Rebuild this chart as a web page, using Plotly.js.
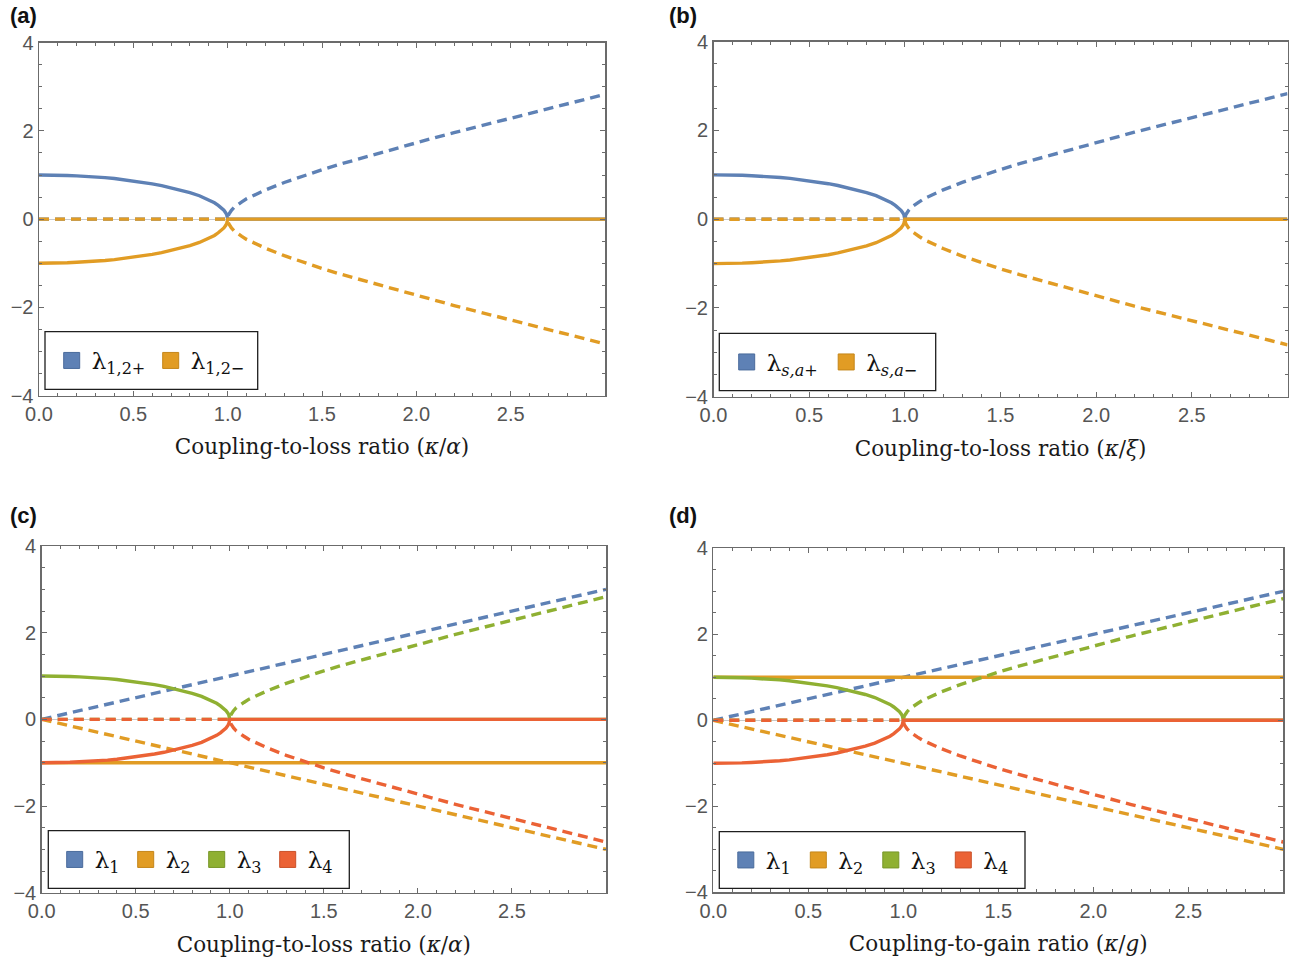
<!DOCTYPE html>
<html>
<head>
<meta charset="utf-8">
<script src="https://cdn.plot.ly/plotly-3.0.1.min.js"></script>
<style>html,body{margin:0;padding:0;background:#fff;}#chart{width:1293px;height:966px;}</style>
</head>
<body>
<div id="chart"></div>
<script>
// ---------- data ----------
const kIn = [0,0.05,0.1,0.15,0.2,0.25,0.3,0.35,0.4,0.45,0.5,0.55,0.6,0.65,0.7,0.75,0.8,0.85,0.9,0.93,0.95,0.97,0.98,0.99,0.995,1];
const upperIn = [1.00,1.00,0.99,0.99,0.98,0.97,0.95,0.94,0.92,0.89,0.87,0.84,0.80,0.76,0.71,0.66,0.60,0.53,0.44,0.37,0.31,0.24,0.20,0.14,0.10,0.00];
const lowerIn = [-1.00,-1.00,-0.99,-0.99,-0.98,-0.97,-0.95,-0.94,-0.92,-0.89,-0.87,-0.84,-0.80,-0.76,-0.71,-0.66,-0.60,-0.53,-0.44,-0.37,-0.31,-0.24,-0.20,-0.14,-0.10,0.00];
const kOut = [1,1.005,1.01,1.02,1.035,1.05,1.075,1.1,1.15,1.2,1.3,1.4,1.5,1.6,1.7,1.8,1.9,2.0,2.1,2.2,2.3,2.4,2.5,2.6,2.7,2.8,2.9,3.0];
const upperOut = [0,0.10,0.14,0.20,0.27,0.32,0.39,0.46,0.57,0.66,0.83,0.98,1.12,1.25,1.37,1.50,1.62,1.73,1.85,1.96,2.07,2.18,2.29,2.40,2.51,2.62,2.72,2.83];
const lowerOut = [0,-0.10,-0.14,-0.20,-0.27,-0.32,-0.39,-0.46,-0.57,-0.66,-0.83,-0.98,-1.12,-1.25,-1.37,-1.50,-1.62,-1.73,-1.85,-1.96,-2.07,-2.18,-2.29,-2.40,-2.51,-2.62,-2.72,-2.83];
const kBefore = [0, 1];      // zero segment before the exceptional point
const kAfter = [1, 3];       // zero segment after the exceptional point
const zeroPair = [0, 0];
const kSpan = [0, 3];
const levelOne = [1, 1];
const levelMinusOne = [-1, -1];
const diagUp = [0, 3];
const diagDown = [0, -3];

const xTickVals = [0, 0.5, 1.0, 1.5, 2.0, 2.5];
const legendA = ['λ<sub>1,2+</sub>', 'λ<sub>1,2−</sub>'];
const legendB = ['λ<sub><i>s,a</i>+</sub>', 'λ<sub><i>s,a</i>−</sub>'];
const legendCD = ['λ<sub>1</sub>', 'λ<sub>2</sub>', 'λ<sub>3</sub>', 'λ<sub>4</sub>'];
const xTitles = ['Coupling-to-loss ratio (<i>κ</i>/<i>α</i>)', 'Coupling-to-loss ratio (<i>κ</i>/<i>ξ</i>)',
                 'Coupling-to-loss ratio (<i>κ</i>/<i>α</i>)', 'Coupling-to-gain ratio (<i>κ</i>/<i>g</i>)'];
const panelLabels = ['(a)', '(b)', '(c)', '(d)'];

// ---------- styling ----------
const BLUE = '#5E81B5', ORANGE = '#E19C24', GREEN = '#8FB032', RED = '#EB6235';
const EDGE = {'#5E81B5':'#4a6b9c', '#E19C24':'#c4861a', '#8FB032':'#779628', '#EB6235':'#c9512a'};
const W = 1293, H = 966;
const LW = 3.4;
const DASH = '10px,6px';
const SERIF = '"DejaVu Serif", serif';

const cat = (a, b) => a.concat(b);
function solid(ax, x, y, c) {
  return {type:'scatter', mode:'lines', x:x, y:y, xaxis:'x'+ax, yaxis:'y'+ax, showlegend:false, hoverinfo:'skip',
          line:{color:c, width:LW}};
}
function dashed(ax, x, y, c) {
  return {type:'scatter', mode:'lines', x:x, y:y, xaxis:'x'+ax, yaxis:'y'+ax, showlegend:false, hoverinfo:'skip',
          line:{color:c, width:LW, dash:DASH}};
}
function legendItem(ax, legendName, name, c) {
  return {type:'scatter', mode:'markers', x:[null], y:[null], xaxis:'x'+ax, yaxis:'y'+ax, name:name,
          legend:legendName, showlegend:true, hoverinfo:'skip',
          marker:{symbol:'square', size:16, color:c, line:{color:EDGE[c], width:1}}};
}

const traces = [];
['', '2'].forEach(function(ax) {
  traces.push(solid(ax, cat(kIn, kAfter), cat(upperIn, zeroPair), BLUE));
  traces.push(dashed(ax, cat([0], kOut), cat([0], upperOut), BLUE));
  traces.push(solid(ax, cat(kIn, kAfter), cat(lowerIn, zeroPair), ORANGE));
  traces.push(dashed(ax, cat([0], kOut), cat([0], lowerOut), ORANGE));
});
traces.push(dashed('3', kSpan, diagUp, BLUE));
traces.push(solid('3', kSpan, levelMinusOne, ORANGE));
traces.push(dashed('3', kSpan, diagDown, ORANGE));
traces.push(solid('3', cat(kIn, kAfter), cat(upperIn, zeroPair), GREEN));
traces.push(dashed('3', cat(kBefore, kOut), cat(zeroPair, upperOut), GREEN));
traces.push(solid('3', cat(kIn, kAfter), cat(lowerIn, zeroPair), RED));
traces.push(dashed('3', cat(kBefore, kOut), cat(zeroPair, lowerOut), RED));
traces.push(dashed('4', kSpan, diagUp, BLUE));
traces.push(solid('4', kSpan, levelOne, ORANGE));
traces.push(dashed('4', kSpan, diagDown, ORANGE));
traces.push(solid('4', cat(kIn, kAfter), cat(upperIn, zeroPair), GREEN));
traces.push(dashed('4', cat(kBefore, kOut), cat(zeroPair, upperOut), GREEN));
traces.push(solid('4', cat(kIn, kAfter), cat(lowerIn, zeroPair), RED));
traces.push(dashed('4', cat(kBefore, kOut), cat(zeroPair, lowerOut), RED));

traces.push(legendItem('', 'legend', legendA[0], BLUE));
traces.push(legendItem('', 'legend', legendA[1], ORANGE));
traces.push(legendItem('2', 'legend2', legendB[0], BLUE));
traces.push(legendItem('2', 'legend2', legendB[1], ORANGE));
[BLUE, ORANGE, GREEN, RED].forEach(function(c, i) {
  traces.push(legendItem('3', 'legend3', legendCD[i], c));
  traces.push(legendItem('4', 'legend4', legendCD[i], c));
});

const px = p => p / W;
const py = p => 1 - p / H;
const boxes = [
  {l:39,    r:605,    t:42.7, b:395.5},
  {l:713.5, r:1287.5, t:41.7, b:396.7},
  {l:41.7,  r:606,    t:546,  b:892.7},
  {l:713.3, r:1283.3, t:548.3,b:892.3}
];
const legendBoxes = [
  {l:45,    r:257.7, t:331.7, b:389.3, sw:71.7,  ew:54},
  {l:719.3, r:935.7, t:333.3, b:390.7, sw:746.7, ew:54.5},
  {l:48.3,  r:349.3, t:830.7, b:888.3, sw:74.7,  ew:26},
  {l:719.3, r:1025,  t:831.7, b:888.3, sw:745.8, ew:27.5}
];
const labelPos = [{x:8, y:16}, {x:667, y:16}, {x:8, y:515}, {x:667, y:515}];

const FRAME = '#6b6b6b';
const tickFont = {family:'"Liberation Sans", Arial, sans-serif', size:20, color:'#555'};
const layout = {
  width:W, height:H, margin:{l:0, r:0, t:0, b:0},
  paper_bgcolor:'#fff', plot_bgcolor:'#fff', showlegend:true,
  shapes:[], annotations:[]
};
const suffixes = ['', '2', '3', '4'];
boxes.forEach(function(b, i) {
  const s = suffixes[i];
  layout['xaxis' + s] = {
    domain:[px(b.l), px(b.r)], range:[0, 3], anchor:'y' + s, automargin:false,
    tickmode:'array', tickvals:xTickVals, tickformat:'.1f',
    ticks:'inside', ticklen:5, tickwidth:1, tickcolor:FRAME,
    showline:true, linecolor:FRAME, linewidth:1.5, mirror:'ticks',
    showgrid:false, zeroline:false, tickfont:tickFont,
    minor:{tickmode:'linear', tick0:0, dtick:0.1, ticks:'inside', ticklen:3, tickwidth:1, tickcolor:FRAME, showgrid:false},
    title:{text:xTitles[i], standoff:15, font:{family:SERIF, size:21.5, color:'#1a1a1a'}}
  };
  layout['yaxis' + s] = {
    domain:[py(b.b), py(b.t)], range:[-4, 4], anchor:'x' + s, automargin:false,
    tickmode:'linear', tick0:0, dtick:2,
    ticks:'inside', ticklen:5, tickwidth:1, tickcolor:FRAME,
    showline:true, linecolor:FRAME, linewidth:1.5, mirror:'ticks',
    showgrid:false, zeroline:true, zerolinecolor:'#c9c9c9', zerolinewidth:1, tickfont:tickFont,
    minor:{tickmode:'linear', tick0:0, dtick:0.5, ticks:'inside', ticklen:3, tickwidth:1, tickcolor:FRAME, showgrid:false}
  };
  const lb = legendBoxes[i];
  layout.shapes.push({type:'rect', xref:'paper', yref:'paper', layer:'above',
    x0:px(lb.l), x1:px(lb.r), y0:py(lb.b), y1:py(lb.t),
    line:{color:'#1e1e1e', width:1.3}, fillcolor:'#ffffff'});
  layout[i === 0 ? 'legend' : 'legend' + (i + 1)] = {
    x:px(lb.sw - 20), y:py((lb.t + lb.b) / 2), xanchor:'left', yanchor:'middle',
    orientation:'h', bgcolor:'rgba(0,0,0,0)', borderwidth:0,
    entrywidth:lb.ew, entrywidthmode:'pixels', itemclick:false, itemdoubleclick:false,
    font:{family:SERIF, size:23, color:'#111'}
  };
  layout.annotations.push({xref:'paper', yref:'paper', x:px(labelPos[i].x), y:py(labelPos[i].y),
    xanchor:'left', yanchor:'middle', showarrow:false, text:'<b>' + panelLabels[i] + '</b>',
    font:{family:'"Liberation Sans", Arial, sans-serif', size:22, color:'#111'}});
});

Plotly.newPlot('chart', traces, layout, {staticPlot:true, displayModeBar:false});
</script>
</body>
</html>
